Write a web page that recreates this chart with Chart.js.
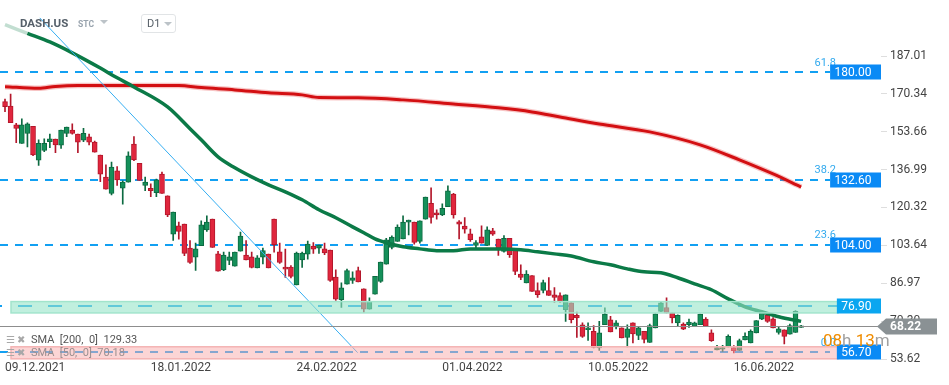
<!DOCTYPE html>
<html>
<head>
<meta charset="utf-8">
<script src="https://cdn.jsdelivr.net/npm/chart.js@4.4.1/dist/chart.umd.min.js"></script>
<style>
  body { margin: 0; background: #fff; font-family: Roboto, sans-serif; }
  #wrap { position: relative; width: 949px; height: 385px; overflow: hidden; }
  #chart { position: absolute; left: 0; top: 0; }
  .abs { position: absolute; white-space: pre; }
  .sym { left: 20px; top: 16px; font-size: 11.5px; font-weight: 700; color: #56606a; line-height: 14px; }
  .stc { left: 78px; top: 19px; font-size: 8.5px; font-weight: 700; color: #98a3ad; line-height: 10px; }
  .tri { width: 0; height: 0; border-left: 4px solid transparent; border-right: 4px solid transparent; border-top: 4px solid #bcc3c8; }
  .tf { left: 141px; top: 14px; width: 33px; height: 17px; border: 1px solid #e1e4e6; border-radius: 3px; }
  .tf span { position: absolute; left: 5px; top: 0; line-height: 17px; font-size: 11px; color: #555e66; }
  .leg { left: 6px; font-size: 11px; line-height: 13px; color: #555; }
  .leg i { font-style: normal; color: #a8a8a8; font-size: 10px; }
</style>
</head>
<body>
<div id="wrap">
  <canvas id="chart" width="949" height="385"></canvas>
  <div class="abs sym">DASH.US</div>
  <div class="abs stc">STC</div>
  <div class="abs tri" style="left:100px;top:20px"></div>
  <div class="abs tf"><span>D1</span><div class="abs tri" style="left:22px;top:7px"></div></div>
  <div class="abs leg" style="top:333px"><i>☰ ✖</i>  SMA  [200,  0]  129.33</div>
  <div class="abs leg" style="top:346px;color:#9b8f8f"><i>☰ ✖</i>  SMA  [50,  0]  70.18</div>
</div>
<script>
// daily candles, index 0 = 09.12.2021
const opens = [
  166.9, 165.0, 156.7, 148.5, 152.9, 156.1, 141.2, 145.4, 149.3, 150.4,
  147.8, 152.9, 154.4, 152.6, 150.0, 151.4, 149.1, 143.4, 133.7, 126.5,
  136.5, 128.8, 131.5, 148.2, 139.8, 130.0, 128.8, 126.9, 135.0, 125.5,
  108.6, 112.3, 113.0, 102.4, 98.5, 103.5, 110.5, 115.2, 99.9, 92.8,
  97.0, 94.5, 101.1, 99.4, 98.6, 93.7, 98.5, 99.8, 115.2, 100.8,
  94.1, 94.1, 86.2, 97.2, 99.8, 103.3, 102.4, 102.1, 101.6, 89.7,
  79.7, 86.6, 88.2, 92.5, 84.5, 75.6, 82.2, 87.8, 95.4, 102.7,
  105.4, 106.5, 113.9, 113.9, 105.4, 115.2, 122.2, 118.0, 117.1, 120.7,
  126.2, 114.0, 112.1, 108.7, 103.6, 107.4, 103.6, 110.1, 106.4, 101.0,
  106.8, 101.7, 91.0, 87.1, 90.3, 83.7, 83.8, 83.7, 81.9, 81.5,
  75.3, 78.3, 72.8, 68.7, 66.5, 65.8, 58.5, 68.7, 70.9, 67.7,
  67.3, 63.1, 69.5, 64.0, 65.8, 60.9, 67.3, 74.6, 76.3, 73.9,
  69.5, 69.0, 68.7, 68.0, 68.7, 71.2, 65.1, 57.6, 58.0, 58.9,
  58.7, 57.4, 62.0, 60.7, 65.1, 71.2, 72.8, 71.3, 65.3, 66.5,
  64.6, 65.3, 67.5
];
const highs = [
  168.1, 170.3, 157.4, 159.3, 157.6, 156.1, 150.1, 150.5, 152.6, 150.4,
  154.4, 155.7, 157.1, 152.6, 155.2, 152.6, 149.6, 143.4, 139.1, 140.3,
  138.3, 132.1, 144.8, 151.5, 139.8, 133.7, 130.7, 132.8, 135.9, 125.5,
  118.3, 113.9, 113.0, 105.7, 104.6, 114.5, 116.7, 115.2, 101.0, 100.7,
  100.7, 100.7, 109.5, 105.7, 100.7, 99.1, 102.4, 99.8, 115.2, 104.6,
  102.0, 94.7, 100.7, 100.7, 105.5, 104.9, 103.8, 104.6, 101.6, 92.9,
  87.1, 93.2, 92.0, 94.1, 84.5, 80.5, 90.0, 96.3, 106.8, 107.9,
  112.7, 116.7, 114.8, 113.9, 114.5, 124.9, 129.0, 119.3, 121.9, 129.9,
  126.6, 114.6, 115.9, 110.8, 105.7, 112.3, 111.8, 111.2, 106.4, 108.0,
  106.8, 101.7, 95.1, 92.5, 90.3, 87.1, 88.4, 89.5, 85.1, 82.7,
  81.9, 78.3, 74.3, 69.5, 69.5, 68.3, 70.2, 76.1, 72.4, 70.5,
  67.3, 68.7, 69.5, 68.0, 65.8, 69.0, 73.5, 78.7, 80.5, 73.9,
  73.1, 69.5, 71.2, 69.9, 73.4, 71.9, 66.5, 59.6, 59.6, 64.3,
  59.5, 62.4, 65.1, 66.5, 70.5, 74.6, 73.9, 71.9, 67.7, 66.5,
  69.0, 74.9, 68.4
];
const lows = [
  162.5, 157.7, 148.9, 148.5, 147.0, 143.1, 138.8, 144.9, 146.7, 144.5,
  146.3, 151.5, 152.6, 144.5, 149.3, 147.9, 144.7, 131.7, 128.4, 125.9,
  130.0, 121.8, 131.5, 140.9, 132.2, 127.7, 125.1, 125.1, 126.5, 116.3,
  105.8, 106.4, 99.1, 95.7, 92.6, 103.5, 109.8, 102.7, 92.3, 92.5,
  95.1, 94.5, 101.1, 97.2, 93.7, 93.7, 95.5, 93.7, 100.7, 95.7,
  89.5, 89.3, 86.2, 93.9, 97.6, 100.1, 100.1, 99.6, 87.8, 79.4,
  76.3, 86.6, 86.9, 87.5, 74.1, 75.6, 82.2, 87.3, 95.4, 102.1,
  105.4, 106.5, 108.3, 104.2, 104.6, 115.2, 113.4, 115.2, 116.7, 120.7,
  115.6, 106.5, 109.0, 105.4, 102.3, 104.6, 103.6, 108.0, 99.2, 100.7,
  98.3, 90.7, 88.5, 87.1, 83.4, 80.7, 82.7, 81.6, 78.5, 78.5,
  70.2, 69.5, 63.1, 63.1, 61.8, 58.5, 57.4, 68.7, 65.5, 66.9,
  62.9, 58.9, 60.7, 62.1, 60.7, 60.9, 67.3, 74.6, 73.9, 69.5,
  68.3, 66.5, 67.5, 68.0, 68.7, 68.0, 61.4, 57.6, 57.0, 58.9,
  56.3, 57.4, 62.0, 60.7, 65.1, 70.9, 69.7, 67.3, 64.6, 60.3,
  64.6, 65.3, 67.5
];
const closes = [
  164.7, 157.7, 155.1, 156.7, 157.1, 143.5, 148.6, 148.6, 150.5, 147.9,
  154.4, 155.7, 152.9, 149.1, 153.0, 149.1, 144.7, 135.0, 128.4, 138.1,
  132.5, 131.5, 143.1, 141.3, 132.2, 131.5, 127.7, 132.5, 126.5, 117.1,
  118.3, 109.8, 100.1, 96.1, 102.1, 112.7, 113.9, 102.7, 92.3, 99.4,
  98.6, 100.7, 107.7, 97.2, 93.9, 98.2, 101.4, 93.7, 103.9, 96.1,
  93.2, 90.0, 100.2, 100.2, 104.2, 102.0, 103.8, 100.3, 88.2, 80.0,
  84.9, 92.5, 89.4, 87.5, 75.6, 79.0, 90.0, 96.3, 106.1, 107.3,
  111.7, 113.9, 114.8, 104.9, 114.5, 124.9, 115.9, 117.0, 120.0, 127.7,
  117.0, 113.0, 110.8, 106.2, 104.9, 104.6, 110.5, 108.6, 102.4, 106.8,
  99.5, 92.2, 89.5, 91.0, 83.4, 81.9, 87.3, 81.6, 80.7, 79.0,
  81.9, 70.9, 71.7, 63.6, 67.3, 58.7, 65.1, 73.4, 65.5, 69.5,
  62.9, 66.9, 64.7, 67.3, 62.2, 68.3, 73.5, 78.3, 73.9, 71.7,
  72.8, 66.8, 69.9, 69.5, 73.4, 68.0, 61.7, 58.7, 58.7, 63.6,
  57.3, 61.7, 63.6, 65.8, 70.5, 73.9, 70.2, 67.3, 66.9, 63.6,
  68.3, 74.6, 68.22
];

// moving averages, read at candle indices
const sma200Idx = [0, 6, 9, 13, 31, 35, 41, 47, 53, 56, 63, 71, 80, 88, 94, 99, 106, 115, 124, 131, 137, 142];
const sma200 = [173.5, 172.8, 173.6, 174.0, 174.0, 173.1, 172.1, 170.8, 169.9, 168.7, 168.6, 167.7, 165.9, 164.2, 162.4, 160.2, 157.1, 153.6, 147.9, 141.3, 135.1, 129.33];
const sma50Idx = [0, 4, 8, 12, 17, 20, 23, 29, 33, 35, 38, 41, 44, 47, 50, 53, 56, 59, 62, 64, 66, 68, 71, 74, 77, 80, 83, 89, 92, 95, 98, 101, 105, 108, 111, 114, 117, 120, 123, 126, 129, 132, 135, 138, 142];
const sma50 = [200.8, 197.0, 193.2, 188.4, 181.7, 177.4, 173.4, 164.6, 155.0, 150.1, 142.6, 137.8, 133.8, 130.3, 127.2, 123.7, 119.3, 115.8, 111.8, 109.2, 106.5, 104.8, 103.0, 102.1, 101.3, 101.3, 102.1, 102.1, 101.7, 100.8, 99.9, 99.0, 96.4, 95.1, 93.3, 92.0, 91.6, 89.4, 86.7, 84.1, 80.1, 76.6, 74.4, 72.2, 70.18];

// drawn trend line (candle index, price)
const trendIdx = [6.2, 62.9];
const trendPrice = [203.8, 56.4];

// fibo levels and zones
const fibPrices = [180.00, 132.60, 104.00, 56.70];
const fibRatios = ['61.8', '38.2', '23.6', '0.0'];
const hLinePrice = 76.90;
const greenZone = [73.9, 78.9];
const redZone = [53.7, 59.0];
const lastPrice = 68.22;

const tickIdx = [0, 26, 52, 78, 104, 130];
const tickLabels = ['09.12.2021', '18.01.2022', '24.02.2022', '01.04.2022', '10.05.2022', '16.06.2022'];
const yTicks = [53.62, 70.30, 86.97, 103.64, 120.32, 136.99, 153.66, 170.34, 187.01];

const up = opens.map((o, i) => closes[i] >= o);
const bodyFill = up.map(u => u ? '#15905a' : '#e0263d');
const bodyEdge = up.map(u => u ? '#0c6a41' : '#b3172b');

function box(ctx, text, right, yc, color) {
  ctx.font = '12px Roboto';
  const w = ctx.measureText(text).width + 14;
  ctx.fillStyle = color;
  ctx.fillRect(right - w, Math.round(yc) - 7.5, w, 15);
  ctx.fillStyle = '#fff';
  ctx.textAlign = 'left';
  ctx.textBaseline = 'middle';
  ctx.fillText(text, right - w + 4.5, Math.round(yc) + 0.5);
}

const overlay = {
  id: 'overlay',
  beforeDatasetsDraw(chart) {
    const { ctx, scales: { y } } = chart;
    ctx.save();
    ctx.lineWidth = 2;
    ctx.strokeStyle = '#12a0f2';
    ctx.setLineDash([8, 7]);
    fibPrices.forEach(p => {
      const py = Math.round(y.getPixelForValue(p));
      ctx.beginPath(); ctx.moveTo(0, py); ctx.lineTo(830, py); ctx.stroke();
    });
    ctx.setLineDash([14, 16]);
    ctx.lineDashOffset = 12;
    const hy = Math.round(y.getPixelForValue(hLinePrice));
    ctx.beginPath(); ctx.moveTo(0, hy); ctx.lineTo(838, hy); ctx.stroke();
    ctx.restore();
  },
  afterDatasetsDraw(chart) {
    const { ctx, scales: { y } } = chart;
    ctx.save();
    // zones
    const zones = [[greenZone, 'rgba(150,228,200,0.6)', '#a2e4cc'], [redZone, 'rgba(250,172,172,0.5)', '#f4b4b4']];
    zones.forEach(([z, fill, edge]) => {
      const top = y.getPixelForValue(z[1]), bot = y.getPixelForValue(z[0]);
      ctx.fillStyle = fill;
      ctx.fillRect(11, top, 827, bot - top);
      ctx.strokeStyle = edge; ctx.lineWidth = 1.5;
      ctx.strokeRect(11, top, 827, bot - top);
    });
    // last price line
    const ly = Math.round(y.getPixelForValue(lastPrice)) + 0.5;
    ctx.strokeStyle = '#8d8d8d'; ctx.lineWidth = 1;
    ctx.beginPath(); ctx.moveTo(0, ly); ctx.lineTo(878, ly); ctx.stroke();
    // fib ratio texts
    ctx.font = '11px Roboto';
    ctx.fillStyle = '#33aaee';
    ctx.textAlign = 'right';
    ctx.textBaseline = 'middle';
    fibPrices.forEach((p, i) => ctx.fillText(fibRatios[i], 836, y.getPixelForValue(p) - 9));
    // value boxes
    fibPrices.forEach(p => box(ctx, p.toFixed(2), 881, y.getPixelForValue(p), '#0a8af5'));
    box(ctx, hLinePrice.toFixed(2), 881, y.getPixelForValue(hLinePrice), '#0aa6f0');
    // countdown
    ctx.font = '17px Roboto';
    ctx.textAlign = 'left';
    ctx.textBaseline = 'alphabetic';
    let cx = 823;
    [['08', '#f08c00'], ['h ', '#a0a0a0'], ['13', '#f08c00'], ['m', '#a0a0a0']].forEach(([t, c]) => {
      ctx.fillStyle = c; ctx.fillText(t, cx, 346); cx += ctx.measureText(t).width;
    });
    // price tag
    ctx.fillStyle = '#8a9194';
    ctx.beginPath();
    ctx.moveTo(877, ly); ctx.lineTo(886, ly - 8); ctx.lineTo(937, ly - 8);
    ctx.lineTo(937, ly + 8); ctx.lineTo(886, ly + 8); ctx.closePath(); ctx.fill();
    ctx.fillStyle = '#fff';
    ctx.font = 'bold 12px Roboto';
    ctx.textBaseline = 'middle';
    ctx.fillText(lastPrice.toFixed(2), 890, ly + 0.5);
    ctx.restore();
  }
};

const sma200Points = sma200Idx.map((x, i) => ({ x, y: sma200[i] }));

new Chart(document.getElementById('chart'), {
  data: {
    datasets: [
      {
        type: 'line',
        data: trendIdx.map((x, i) => ({ x, y: trendPrice[i] })),
        borderColor: '#35aef2', borderWidth: 1, pointRadius: 0
      },
      {
        type: 'line',
        data: sma50Idx.map((x, i) => ({ x, y: sma50[i] })),
        borderColor: '#0b7a47', borderWidth: 3.5, pointRadius: 0,
        cubicInterpolationMode: 'monotone',
        segment: { borderColor: c => c.p0DataIndex === 0 ? 'rgba(11,122,71,0.25)' : undefined }
      },
      {
        type: 'line',
        data: sma200Points,
        borderColor: '#d30f12', borderWidth: 3, pointRadius: 0,
        cubicInterpolationMode: 'monotone'
      },
      {
        type: 'line',
        data: sma200Points,
        borderColor: 'rgba(230,60,60,0.3)', borderWidth: 5.5, pointRadius: 0,
        cubicInterpolationMode: 'monotone'
      },
      {
        type: 'bar',
        data: opens.map((o, i) => ({ x: i, y: [o, closes[i]] })),
        backgroundColor: bodyFill, borderColor: bodyEdge, borderWidth: 1,
        borderSkipped: false, barThickness: 5, minBarLength: 1, grouped: false
      },
      {
        type: 'bar',
        data: highs.map((h, i) => ({ x: i, y: [lows[i], h] })),
        backgroundColor: bodyEdge, barThickness: 1, grouped: false
      }
    ]
  },
  options: {
    responsive: false,
    devicePixelRatio: 1,
    animation: false,
    layout: { autoPadding: false, padding: { left: 2.2, right: 0, top: 0, bottom: 0 } },
    plugins: { legend: { display: false }, tooltip: { enabled: false } },
    scales: {
      x: {
        type: 'linear', min: -0.5, max: 156.25, offset: false,
        afterBuildTicks: s => { s.ticks = tickIdx.map(v => ({ value: v })); },
        afterFit: s => { s.height = 26; s.paddingLeft = 0; s.paddingRight = 0; },
        grid: { display: false, drawTicks: false, offset: false },
        border: { display: false },
        ticks: {
          align: 'start', autoSkip: false, maxRotation: 0, padding: 2,
          color: '#444', font: { family: 'Roboto', size: 12 },
          callback: (v, i) => tickLabels[i]
        }
      },
      y: {
        type: 'linear', position: 'right', min: 53.62, max: 211.67,
        afterBuildTicks: s => { s.ticks = yTicks.map(v => ({ value: v })); },
        afterFit: s => { s.width = 68; s.paddingTop = 0; s.paddingBottom = 0; },
        grid: { drawOnChartArea: false, drawTicks: true, tickLength: 6, color: '#dedede' },
        border: { display: false },
        ticks: {
          padding: 3, color: '#444', font: { family: 'Roboto', size: 12 },
          callback: v => v.toFixed(2)
        }
      }
    }
  },
  plugins: [overlay]
});
</script>
</body>
</html>
